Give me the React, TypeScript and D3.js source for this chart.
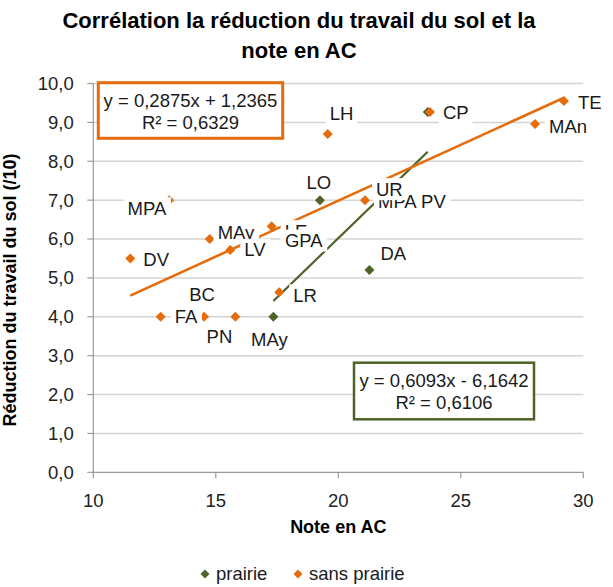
import React, { useEffect, useRef } from "react";
import * as d3 from "d3";

const W = 613;
const H = 587;
const FONT = "'Liberation Sans', Arial, sans-serif";

const titleLines = ["Corrélation la réduction du travail du sol et la", "note en AC"];
const xAxisTitle = "Note en AC";
const yAxisTitle = "Réduction du travail du sol (/10)";

const seriesNames = ["prairie", "sans prairie"];
const seriesColors = ["#4F6228", "#E46C0A"];

const xTicks = [10, 15, 20, 25, 30];
const yTicks = [0, 1, 2, 3, 4, 5, 6, 7, 8, 9, 10];

// Farms with grassland in the rotation
const prairieNames = ["MAy", "LO", "DA", "CP"];
const prairieNotes = [17.35, 19.25, 21.27, 23.65];
const prairieReductions = [4.0, 7.0, 5.2, 9.27];

// Farms without grassland
const sansNames = ["LH", "MPA", "MAy", "LE", "LV", "DV", "FA", "BC", "PN", "LR", "UR", "CP", "TE", "MAn"];
const sansNotes = [19.57, 13.1, 14.75, 17.28, 15.59, 11.51, 12.75, 14.52, 15.8, 17.59, 21.09, 23.74, 29.21, 28.03];
const sansReductions = [8.7, 7.0, 6.0, 6.33, 5.72, 5.5, 4.0, 4.0, 4.0, 4.63, 7.0, 9.27, 9.55, 8.96];

// Labels whose own markers sit underneath other markers (anchored at the text's left edge)
const extraNames = ["MPA", "PV", "GPA"];
const extraNotes = [21.62, 23.38, 17.82];
const extraReductions = [6.96, 6.96, 5.96];

// Linear trend: slope, intercept, R²
const prairieTrend = [0.6093, -6.1642, 0.6106];
const sansTrend = [0.2875, 1.2365, 0.6329];

// Placement of each data label relative to its marker
type LabelPos = { anchor: "start" | "middle" | "end"; dx: number; dy: number };
const prairieLabelPos: Record<string, LabelPos | null> = {
  MAy: { anchor: "middle", dx: -4, dy: 23 },
  LO: { anchor: "middle", dx: -1, dy: -18 },
  DA: { anchor: "start", dx: 11, dy: -17 },
  CP: null,
};
const sansLabelPos: Record<string, LabelPos> = {
  LH: { anchor: "start", dx: 2, dy: -21 },
  MPA: { anchor: "end", dx: -3, dy: 8 },
  MAy: { anchor: "start", dx: 8, dy: -6 },
  LE: { anchor: "start", dx: 13, dy: 5 },
  LV: { anchor: "start", dx: 14, dy: 0 },
  DV: { anchor: "start", dx: 13, dy: 1.5 },
  FA: { anchor: "start", dx: 14, dy: 0 },
  BC: { anchor: "middle", dx: -2, dy: -22 },
  PN: { anchor: "middle", dx: -16, dy: 20 },
  LR: { anchor: "start", dx: 14, dy: 3 },
  UR: { anchor: "start", dx: 11, dy: -11 },
  CP: { anchor: "start", dx: 13, dy: 1 },
  TE: { anchor: "start", dx: 14, dy: 2 },
  MAn: { anchor: "start", dx: 14, dy: 3 },
};

const frNum = (v: number, d: number) => v.toFixed(d).replace(".", ",");
const eqText = (t: number[]) =>
  `y = ${frNum(t[0], 4)}x ${t[1] < 0 ? "-" : "+"} ${frNum(Math.abs(t[1]), 4)}`;
const r2Text = (t: number[]) => `R² = ${frNum(t[2], 4)}`;

export default function App() {
  const ref = useRef<SVGSVGElement | null>(null);

  useEffect(() => {
    const svg = d3.select(ref.current);
    svg.selectAll("*").remove();

    const left = 93.3, right = 583.3, top = 83.5, bottom = 472.3;
    const x = d3.scaleLinear().domain([10, 30]).range([left, right]);
    const y = d3.scaleLinear().domain([0, 10]).range([bottom, top]);
    const fs = 18.5;

    svg.append("rect").attr("width", W).attr("height", H).attr("fill", "#fff");

    // title
    svg.selectAll("text.title")
      .data(titleLines)
      .join("text")
      .attr("class", "title")
      .attr("x", 299)
      .attr("y", (_, i) => 28 + i * 30)
      .attr("text-anchor", "middle")
      .attr("font-family", FONT)
      .attr("font-weight", "bold")
      .attr("font-size", 22)
      .attr("fill", "#000")
      .text((d) => d);

    // gridlines
    svg.append("g")
      .selectAll("line")
      .data(yTicks.filter((t) => t > 0))
      .join("line")
      .attr("x1", left).attr("x2", right)
      .attr("y1", (d) => y(d)).attr("y2", (d) => y(d))
      .attr("stroke", "#d4d4d4").attr("stroke-width", 1.5);

    // axes
    const axisColor = "#999";
    svg.append("line").attr("x1", left).attr("x2", left).attr("y1", top).attr("y2", bottom)
      .attr("stroke", axisColor).attr("stroke-width", 1.2);
    svg.append("line").attr("x1", left).attr("x2", right).attr("y1", bottom).attr("y2", bottom)
      .attr("stroke", axisColor).attr("stroke-width", 1.2);
    svg.append("g").selectAll("line").data(yTicks).join("line")
      .attr("x1", left - 6).attr("x2", left)
      .attr("y1", (d) => y(d)).attr("y2", (d) => y(d))
      .attr("stroke", axisColor).attr("stroke-width", 1.2);
    svg.append("g").selectAll("line").data(xTicks).join("line")
      .attr("x1", (d) => x(d)).attr("x2", (d) => x(d))
      .attr("y1", bottom).attr("y2", bottom + 6)
      .attr("stroke", axisColor).attr("stroke-width", 1.2);

    svg.append("g").selectAll("text").data(yTicks).join("text")
      .attr("x", left - 19.5)
      .attr("y", (d) => y(d))
      .attr("dy", "0.35em")
      .attr("text-anchor", "end")
      .attr("font-family", FONT).attr("font-size", fs).attr("fill", "#222")
      .text((d) => frNum(d, 1));
    svg.append("g").selectAll("text").data(xTicks).join("text")
      .attr("x", (d) => x(d))
      .attr("y", bottom + 28)
      .attr("dy", "0.35em")
      .attr("text-anchor", "middle")
      .attr("font-family", FONT).attr("font-size", fs).attr("fill", "#222")
      .text((d) => String(d));

    // axis titles
    svg.append("text")
      .attr("x", (left + right) / 2).attr("y", 527).attr("dy", "0.35em")
      .attr("text-anchor", "middle")
      .attr("font-family", FONT).attr("font-weight", "bold").attr("font-size", 18)
      .attr("fill", "#000").text(xAxisTitle);
    svg.append("text")
      .attr("transform", `translate(10,290) rotate(-90)`)
      .attr("dy", "0.35em")
      .attr("text-anchor", "middle")
      .attr("font-family", FONT).attr("font-weight", "bold").attr("font-size", 18)
      .attr("fill", "#000").text(yAxisTitle);

    // trend lines
    const trendLine = (t: number[], xs: number[], color: string, w: number) => {
      const [x0, x1] = d3.extent(xs) as [number, number];
      const pts: [number, number][] = [x0, x1].map((v) => [x(v), y(t[0] * v + t[1])]);
      svg.append("path")
        .attr("d", d3.line()(pts))
        .attr("stroke", color).attr("stroke-width", w).attr("fill", "none");
    };
    trendLine(prairieTrend, prairieNotes, seriesColors[0], 2.2);
    trendLine(sansTrend, sansNotes, seriesColors[1], 2.6);

    // markers
    const diamond = d3.symbol(d3.symbolSquare, 50)();
    const drawMarkers = (xs: number[], ys: number[], color: string) => {
      svg.append("g").selectAll("path").data(xs).join("path")
        .attr("d", diamond)
        .attr("transform", (d, i) => `translate(${x(d)},${y(ys[i])}) rotate(45)`)
        .attr("fill", color);
    };
    drawMarkers(prairieNotes, prairieReductions, seriesColors[0]);
    drawMarkers(sansNotes, sansReductions, seriesColors[1]);

    // data labels with white backing
    const labelLayer = svg.append("g");
    const drawLabel = (name: string, cx: number, cy: number, anchor: string) => {
      const g = labelLayer.append("g");
      const r = g.append("rect").attr("fill", "#fff");
      const t = g.append("text")
        .attr("x", cx).attr("y", cy).attr("dy", "0.35em")
        .attr("text-anchor", anchor)
        .attr("font-family", FONT).attr("font-size", fs).attr("fill", "#1a1a1a")
        .text(name);
      const bb = (t.node() as SVGTextElement).getBBox();
      r.attr("x", bb.x - 4).attr("width", bb.width + 8).attr("y", cy - 11).attr("height", 22);
    };
    prairieNames.forEach((n, i) => {
      const p = prairieLabelPos[n];
      if (!p) return;
      drawLabel(n, x(prairieNotes[i]) + p.dx, y(prairieReductions[i]) + p.dy, p.anchor);
    });
    extraNames.slice(0, 2).forEach((n, i) => drawLabel(n, x(extraNotes[i]), y(extraReductions[i]), "start"));
    sansNames.forEach((n, i) => {
      const p = sansLabelPos[n];
      drawLabel(n, x(sansNotes[i]) + p.dx, y(sansReductions[i]) + p.dy, p.anchor);
    });
    extraNames.slice(2).forEach((n, j) => {
      const i = j + 2;
      drawLabel(n, x(extraNotes[i]), y(extraReductions[i]), "start");
    });

    // trend equations
    const eqBox = (t: number[], bx: number, by: number, bw: number, bh: number, color: string, sw: number) => {
      const g = svg.append("g");
      g.append("rect").attr("x", bx).attr("y", by).attr("width", bw).attr("height", bh)
        .attr("fill", "#fff").attr("stroke", color).attr("stroke-width", sw);
      [eqText(t), r2Text(t)].forEach((s, i) => {
        g.append("text")
          .attr("x", bx + bw / 2).attr("y", by + 18 + i * 22).attr("dy", "0.35em")
          .attr("text-anchor", "middle")
          .attr("font-family", FONT).attr("font-size", fs).attr("fill", "#1a1a1a")
          .text(s);
      });
    };
    eqBox(sansTrend, 98.3, 82.7, 184.4, 55.6, seriesColors[1], 3);
    eqBox(prairieTrend, 354, 362.7, 180, 56.6, seriesColors[0], 2.5);

    // legend
    const legendY = 574;
    const legendItems = [
      { name: seriesNames[0], color: seriesColors[0], mx: 205 },
      { name: seriesNames[1], color: seriesColors[1], mx: 298 },
    ];
    legendItems.forEach((it) => {
      svg.append("path").attr("d", d3.symbol(d3.symbolSquare, 40)())
        .attr("transform", `translate(${it.mx},${legendY}) rotate(45)`)
        .attr("fill", it.color);
      svg.append("text")
        .attr("x", it.mx + 11).attr("y", legendY).attr("dy", "0.35em")
        .attr("font-family", FONT).attr("font-size", fs).attr("fill", "#1a1a1a")
        .text(it.name);
    });
  }, []);

  return (
    <svg
      ref={ref}
      width={W}
      height={H}
      style={{ position: "absolute", left: 0, top: 0 }}
    />
  );
}
